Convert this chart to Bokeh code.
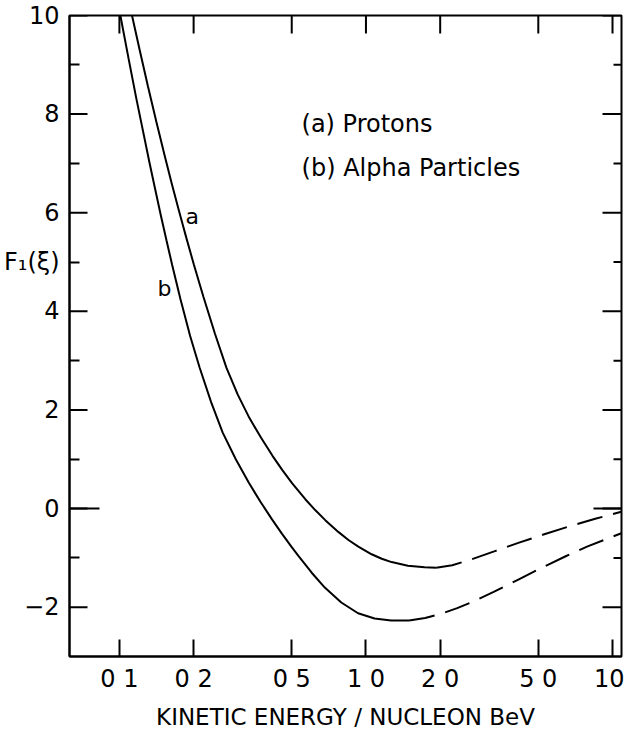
import math
from bokeh.plotting import figure
from bokeh.models import FixedTicker, Range1d
from bokeh.core.properties import value
from bokeh.embed import file_html
from bokeh.resources import INLINE

FONT = "DejaVu Sans"

# ---- data ----
a_solid_x = [0.1125, 0.1211, 0.1306, 0.1413, 0.1524, 0.1629, 0.1746, 0.1871, 0.2004,
             0.2193, 0.2443, 0.2716, 0.3020, 0.3365, 0.3750, 0.4178, 0.4581, 0.5023,
             0.5675, 0.6237, 0.6839, 0.7745, 0.8492, 0.9311, 1.0544, 1.1588, 1.2706,
             1.4791, 1.7298, 1.9275]
a_solid_y = [10.0, 9.28, 8.56, 7.84, 7.17, 6.60, 6.03, 5.48, 4.95,
             4.29, 3.54, 2.86, 2.31, 1.84, 1.44, 1.07, 0.78, 0.51,
             0.19, -0.035, -0.235, -0.478, -0.638, -0.77, -0.927, -1.017, -1.085,
             -1.158, -1.192, -1.199]
a_dash_x = [1.9275, 2.239, 2.64, 3.311, 4.178, 5.248, 6.683, 8.511, 10.86]
a_dash_y = [-1.199, -1.148, -1.04, -0.868, -0.69, -0.527, -0.359, -0.207, -0.064]

b_solid_x = [0.1009, 0.1089, 0.1172, 0.1245, 0.1324, 0.1396, 0.1472, 0.1552, 0.1637,
             0.1766, 0.1936, 0.2118, 0.2355, 0.2624, 0.2965, 0.3350, 0.3733, 0.4159,
             0.4560, 0.5000, 0.5321, 0.6026, 0.6808, 0.7943, 0.9290, 1.0839, 1.2647,
             1.4962]
b_solid_y = [10.0, 9.13, 8.31, 7.67, 7.02, 6.48, 5.95, 5.44, 4.94,
             4.26, 3.50, 2.85, 2.16, 1.54, 1.00, 0.523, 0.138, -0.219,
             -0.507, -0.783, -0.961, -1.301, -1.603, -1.905, -2.123, -2.23, -2.27,
             -2.27]
b_dash_x = [1.4962, 1.738, 2.018, 2.344, 2.667, 3.296, 4.169, 5.26, 6.457, 7.925, 10.86]
b_dash_y = [-2.27, -2.218, -2.134, -2.02, -1.905, -1.689, -1.434, -1.181, -0.967,
            -0.767, -0.50]

x_ticks = [0.1, 0.2, 0.5, 1, 2, 5, 10]
x_tick_labels = ["0 1", "0 2", "0 5", "1 0", "2 0", "5 0", "10"]
y_ticks = [-2, 0, 2, 4, 6, 8, 10]
y_minor_ticks = [-1, 1, 3, 5, 7, 9]

# the y title is written level with y = 5, just left of the frame
y_title = "F\u2081(\u03be)"
y_title_at = 5

legend_x = [0.548, 0.548]
legend_y = [7.79, 6.91]
legend_text = ["(a)  Protons", "(b)  Alpha Particles"]

curve_label_x = [0.1974, 0.1524]
curve_label_y = [5.92, 4.47]
curve_label_text = ["a", "b"]

x_start, x_end = 0.06275, 10.875
y_start, y_end = -3, 10

# ---- figure ----
p = figure(width=624, height=732, x_axis_type="log",
           x_range=Range1d(x_start, x_end), y_range=Range1d(y_start, y_end),
           output_backend="svg", toolbar_location=None,
           min_border_left=68, min_border_right=3, min_border_top=15,
           min_border_bottom=5)
p.grid.visible = False
p.outline_line_color = "black"
p.outline_line_width = 2
p.background_fill_color = "white"
p.border_fill_color = "white"

xt = FixedTicker(ticks=x_ticks, minor_ticks=[])
left_ticks = sorted(y_ticks + [y_title_at])
yt_left = FixedTicker(ticks=left_ticks, minor_ticks=y_minor_ticks)

xa = p.xaxis[0]
xa.ticker = xt
xa.major_label_overrides = {t: lab for t, lab in zip(x_ticks, x_tick_labels)}
xa.axis_label = "KINETIC ENERGY / NUCLEON BeV"
xa.axis_label_text_font = FONT
xa.axis_label_text_font_style = "normal"
xa.axis_label_text_font_size = "23px"
xa.axis_label_text_color = "black"
xa.axis_label_standoff = 8
xa.major_label_text_font = FONT
xa.major_label_text_font_size = "24px"
xa.major_label_text_color = "black"
xa.major_label_standoff = 8
xa.major_tick_in = 17
xa.major_tick_out = 0
xa.minor_tick_in = 0
xa.minor_tick_out = 0
xa.axis_line_width = 2
xa.axis_line_color = "black"
xa.major_tick_line_width = 2
xa.major_tick_line_color = "black"

# left axis: labels (and the y title) come from the axis, major tick marks are drawn
# below so that the title row keeps a short tick like the reference
ya = p.yaxis[0]
ya.ticker = yt_left
ya.major_label_overrides = {y_title_at: y_title}
ya.major_label_text_font = FONT
ya.major_label_text_font_size = "24px"
ya.major_label_text_color = "black"
ya.major_label_standoff = 10
ya.major_tick_in = 0
ya.major_tick_out = 0
ya.minor_tick_in = 10
ya.minor_tick_out = 0
ya.axis_line_width = 2
ya.axis_line_color = "black"
ya.minor_tick_line_width = 2
ya.minor_tick_line_color = "black"

p.ray(x=[x_start] * len(y_ticks), y=y_ticks, length=18, length_units="screen",
      angle=0, line_color="black", line_width=2)

# mirrored ticks on the top and right edges of the frame
p.ray(x=x_ticks, y=[y_end] * len(x_ticks), length=18, length_units="screen",
      angle=-math.pi / 2, line_color="black", line_width=2)
p.ray(x=[x_end] * len(y_ticks), y=y_ticks, length=19, length_units="screen",
      angle=math.pi, line_color="black", line_width=2)
p.ray(x=[x_end] * len(y_minor_ticks), y=y_minor_ticks, length=8, length_units="screen",
      angle=math.pi, line_color="black", line_width=2)

# longer zero-level ticks
p.ray(x=[x_start], y=[0], length=30, length_units="screen", angle=0,
      line_color="black", line_width=2)
p.ray(x=[x_end], y=[0], length=28, length_units="screen", angle=math.pi,
      line_color="black", line_width=2)

# ---- curves ----
p.line(a_solid_x, a_solid_y, line_color="black", line_width=2)
p.line(a_dash_x, a_dash_y, line_color="black", line_width=2, line_dash="26 11")
p.line(b_solid_x, b_solid_y, line_color="black", line_width=2)
p.line(b_dash_x, b_dash_y, line_color="black", line_width=2, line_dash="26 11")

# ---- texts ----
p.text(x=legend_x, y=legend_y, text=legend_text, text_font=value(FONT),
       text_font_size="24px", text_baseline="middle", text_align="left",
       text_color="black")
p.text(x=curve_label_x, y=curve_label_y, text=curve_label_text, text_font=value(FONT),
       text_font_size="22px", text_baseline="middle", text_align="center",
       text_color="black")

open("out.html", "w").write(file_html(p, INLINE))
